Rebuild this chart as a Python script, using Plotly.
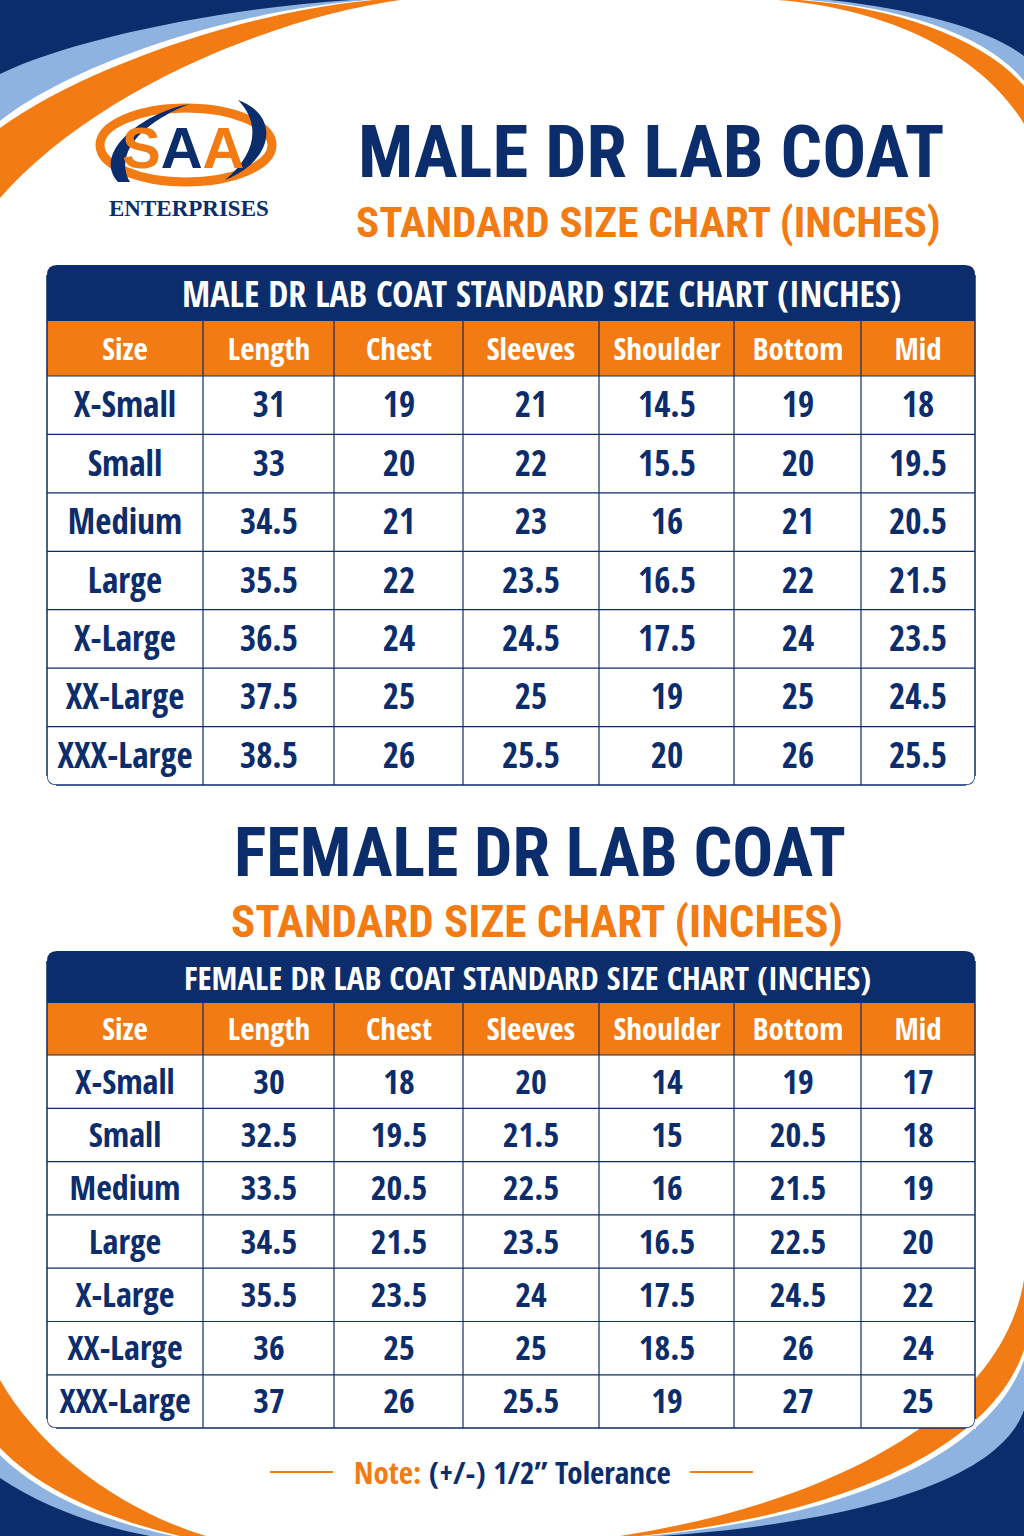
import plotly.graph_objects as go

# ---------------- data ----------------
columns = ["Size", "Length", "Chest", "Sleeves", "Shoulder", "Bottom", "Mid"]
sizes = ["X-Small", "Small", "Medium", "Large", "X-Large", "XX-Large", "XXX-Large"]

male_length = [31, 33, 34.5, 35.5, 36.5, 37.5, 38.5]
male_chest = [19, 20, 21, 22, 24, 25, 26]
male_sleeves = [21, 22, 23, 23.5, 24.5, 25, 25.5]
male_shoulder = [14.5, 15.5, 16, 16.5, 17.5, 19, 20]
male_bottom = [19, 20, 21, 22, 24, 25, 26]
male_mid = [18, 19.5, 20.5, 21.5, 23.5, 24.5, 25.5]

female_length = [30, 32.5, 33.5, 34.5, 35.5, 36, 37]
female_chest = [18, 19.5, 20.5, 21.5, 23.5, 25, 26]
female_sleeves = [20, 21.5, 22.5, 23.5, 24, 25, 25.5]
female_shoulder = [14, 15, 16, 16.5, 17.5, 18.5, 19]
female_bottom = [19, 20.5, 21.5, 22.5, 24.5, 26, 27]
female_mid = [17, 18, 19, 20, 22, 24, 25]

# ---------------- style / layout ----------------
W, H = 1024, 1536
NAVY = "#0c2d6b"
ORANGE = "#f27b13"
LBLUE = "#8fb3e0"
FONT = "Open Sans Condensed, Roboto Condensed, sans-serif"
HFONT = "Roboto Condensed, Open Sans Condensed, sans-serif"
col_widths = [156, 131, 129, 136, 135, 127, 114]
TX0 = 47
col_edges = [TX0]
for w in col_widths:
    col_edges.append(col_edges[-1] + w)
TX1 = col_edges[-1]


def fmt(v):
    return str(v)


fig = go.Figure()
shapes = []
annotations = []


def path(d, fill=None, layer="below", line_color=None, line_width=0):
    shapes.append(dict(type="path", path=d, fillcolor=fill if fill else "rgba(0,0,0,0)",
                       line=dict(width=line_width, color=line_color or "rgba(0,0,0,0)"),
                       xref="x", yref="y", layer=layer))


def txt(x, y, s, size, color, family=FONT, bold=True):
    annotations.append(dict(x=x, y=y, xref="x", yref="y", text=s, showarrow=False,
                            font=dict(family=family, size=size, color=color,
                                      weight="bold" if bold else "normal"),
                            xanchor="center", yanchor="middle", borderpad=0))


def add_table(title, title_size, title_dx, y_title, y_head, header_h, row_h, body_size, cols_data):
    row_edges = [y_head + header_h + i * row_h for i in range(len(sizes) + 1)]
    y_bot = row_edges[-1]
    # header row
    fig.add_trace(go.Heatmap(
        x=col_edges, y=[y_head, y_head + header_h], z=[[0] * len(columns)],
        colorscale=[[0, ORANGE], [1, ORANGE]], showscale=False, hoverinfo="skip",
        text=[columns], texttemplate="%{text}",
        textfont=dict(family=FONT, size=31, color="white", weight="bold"),
    ))
    # body rows
    body_text = [[sizes[r]] + [fmt(col[r]) for col in cols_data] for r in range(len(sizes))]
    fig.add_trace(go.Heatmap(
        x=col_edges, y=row_edges, z=[[0] * len(columns) for _ in sizes],
        colorscale=[[0, "white"], [1, "white"]], showscale=False, hoverinfo="skip",
        text=body_text, texttemplate="%{text}",
        textfont=dict(family=FONT, size=body_size, color=NAVY, weight="bold"),
    ))
    # title bar (rounded top)
    r = 10
    path(f"M {TX0} {y_head} L {TX0} {y_title + r} Q {TX0} {y_title}, {TX0 + r} {y_title} "
         f"L {TX1 - r} {y_title} Q {TX1} {y_title}, {TX1} {y_title + r} L {TX1} {y_head} Z", NAVY)
    txt((TX0 + TX1) / 2 + title_dx, (y_title + y_head) / 2, title, title_size, "white")
    # grid lines
    for xe in col_edges[1:-1]:
        shapes.append(dict(type="line", x0=xe, x1=xe, y0=y_head, y1=y_bot, xref="x", yref="y",
                           line=dict(color=NAVY, width=1.2), layer="above"))
    for ye in row_edges[:-1]:
        shapes.append(dict(type="line", x0=TX0, x1=TX1, y0=ye, y1=ye, xref="x", yref="y",
                           line=dict(color=NAVY, width=1.2), layer="above"))
    # outer border with rounded corners
    rb = 9
    path(f"M {TX0} {y_title + r} L {TX0} {y_bot - rb} Q {TX0} {y_bot}, {TX0 + rb} {y_bot} "
         f"L {TX1 - rb} {y_bot} Q {TX1} {y_bot}, {TX1} {y_bot - rb} L {TX1} {y_title + r}",
         None, layer="above", line_color=NAVY, line_width=1.5)
    for cx, sx in [(TX0, 1), (TX1, -1)]:
        path(f"M {cx - sx * 1} {y_bot + 1} L {cx - sx * 1} {y_bot - rb} "
             f"L {cx} {y_bot - rb} Q {cx} {y_bot}, {cx + sx * rb} {y_bot} L {cx + sx * rb} {y_bot + 1} Z",
             "white", layer="above")
    return y_bot


# ---- decorative swooshes ----
# top-left
path("M 0 0 L 400 0 C 262 20, 90 95, 0 198 Z", ORANGE)
path("M 0 0 L 374 0 C 240 12, 80 70, 0 128 Z", "white")
path("M 0 0 L 368 0 C 235 10, 75 62, 0 121 Z", LBLUE)
path("M 0 0 L 352 0 C 220 8, 70 40, 0 74 Z", NAVY)
# top-right
path("M 1024 0 L 778 0 C 880 8, 980 50, 1024 124 Z", ORANGE)
path("M 1024 0 L 800 0 C 900 8, 985 40, 1024 86 Z", "white")
path("M 1024 0 L 808 0 C 905 8, 988 36, 1024 81 Z", LBLUE)
path("M 1024 0 L 830 0 C 920 10, 990 30, 1024 56 Z", NAVY)
# bottom-left
path("M 0 1536 L 0 1380 C 40 1450, 120 1510, 206 1536 Z", ORANGE)
path("M 0 1536 L 0 1448 C 40 1490, 110 1520, 180 1536 Z", "white")
path("M 0 1536 L 0 1455 C 40 1495, 105 1522, 174 1536 Z", LBLUE)
path("M 0 1536 L 0 1478 C 40 1505, 95 1526, 150 1536 Z", NAVY)
# bottom-right
path("M 1024 1536 L 1024 1280 C 1000 1420, 820 1505, 620 1536 Z", ORANGE)
path("M 1024 1536 L 1024 1350 C 990 1450, 840 1515, 640 1536 Z", "white")
path("M 1024 1536 L 1024 1360 C 990 1455, 845 1518, 645 1536 Z", LBLUE)
path("M 1024 1536 L 1024 1410 C 1000 1480, 860 1522, 660 1536 Z", NAVY)

# ---- tables ----
add_table("MALE DR LAB COAT STANDARD SIZE CHART (INCHES)", 36, 30, 265, 321, 55, 58.43, 35,
          [male_length, male_chest, male_sleeves, male_shoulder, male_bottom, male_mid])
add_table("FEMALE DR LAB COAT STANDARD SIZE CHART (INCHES)", 33, 16, 951, 1003, 52, 53.3, 34,
          [female_length, female_chest, female_sleeves, female_shoulder, female_bottom, female_mid])

# ---- logo ----
shapes.append(dict(type="circle", x0=100, y0=108, x1=272, y1=182, xref="x", yref="y",
                   line=dict(color=ORANGE, width=9), layer="below"))
path("M 118 182 C 90 150, 150 110, 190 104 C 160 115, 110 145, 130 182 Z", NAVY)
path("M 238 100 C 280 115, 275 160, 225 180 C 255 155, 262 125, 238 100 Z", NAVY)
annotations.append(dict(x=183, y=147, xref="x", yref="y", showarrow=False,
                        text=(f"<span style='color:{ORANGE}'>S</span>"
                              f"<span style='color:{NAVY}'>A</span>"
                              f"<span style='color:{ORANGE}'>A</span>"),
                        font=dict(family="Liberation Sans, Arial, sans-serif", size=58,
                                  weight="bold"),
                        xanchor="center", yanchor="middle"))
txt(189, 208, "ENTERPRISES", 23, NAVY, family="Liberation Serif, Times New Roman, serif")

# ---- headings ----
txt(651, 152, "MALE DR LAB COAT", 73, NAVY, family=HFONT)
txt(648, 222, "STANDARD SIZE CHART (INCHES)", 43, ORANGE, family=HFONT)
txt(540, 853, "FEMALE DR LAB COAT", 68, NAVY, family=HFONT)
txt(537, 921, "STANDARD SIZE CHART (INCHES)", 45, ORANGE, family=HFONT)

# ---- note ----
for xa, xb in [(270, 333), (690, 753)]:
    shapes.append(dict(type="line", x0=xa, x1=xb, y0=1472, y1=1472, xref="x", yref="y",
                       line=dict(color=ORANGE, width=2)))
annotations.append(dict(x=512, y=1472, xref="x", yref="y", showarrow=False,
                        text=(f"<span style='color:{ORANGE}'>Note:</span> "
                              f"<span style='color:{NAVY}'>(+/-) 1/2” Tolerance</span>"),
                        font=dict(family=FONT, size=31, weight="bold"),
                        xanchor="center", yanchor="middle"))

fig.update_layout(
    width=W, height=H,
    margin=dict(l=0, r=0, t=0, b=0),
    paper_bgcolor="white", plot_bgcolor="white",
    xaxis=dict(range=[0, W], visible=False, fixedrange=True),
    yaxis=dict(range=[H, 0], visible=False, fixedrange=True),
    shapes=shapes, annotations=annotations,
    showlegend=False,
)

fig.write_html("out.html", config={"displayModeBar": False},
               post_script="document.body.style.margin='0';")
